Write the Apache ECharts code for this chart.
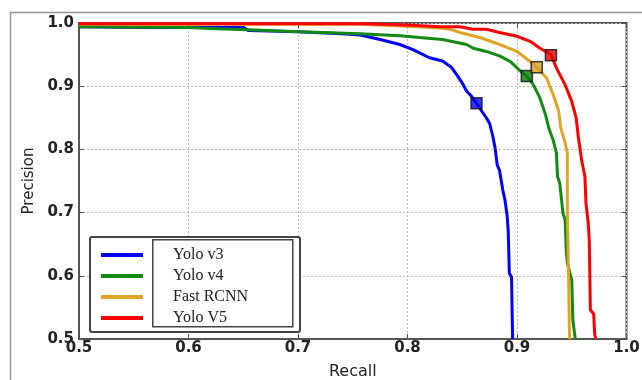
<!DOCTYPE html>
<html>
<head>
<meta charset="utf-8">
<script src="https://cdn.jsdelivr.net/npm/echarts@6/dist/echarts.min.js"></script>
<style>
  html, body { margin: 0; padding: 0; background: #fff; }
  #main { width: 642px; height: 380px; }
</style>
</head>
<body>
<div id="main"></div>
<script>
// 数据：各模型的 PR 曲线（recall / precision）
var names = ['Yolo v3', 'Yolo v4', 'Fast RCNN', 'Yolo V5'];
var colors = ['#0000ff', '#138a13', '#e0a526', '#ff0000'];
var markColors = ['#0000ee', '#0b7a0b', '#d9a028', '#e60000'];

var v3Recall = [0.5, 0.56, 0.65, 0.655, 0.70, 0.74, 0.757, 0.775, 0.793, 0.805, 0.812, 0.82, 0.832, 0.84, 0.845, 0.85, 0.854, 0.858, 0.863, 0.868, 0.872, 0.875, 0.878, 0.880, 0.882, 0.884, 0.887, 0.889, 0.891, 0.892, 0.893, 0.895, 0.896];
var v3Precision = [0.994, 0.993, 0.993, 0.988, 0.986, 0.983, 0.981, 0.974, 0.966, 0.958, 0.952, 0.945, 0.940, 0.930, 0.918, 0.905, 0.892, 0.885, 0.873, 0.860, 0.850, 0.841, 0.820, 0.802, 0.775, 0.767, 0.736, 0.720, 0.695, 0.670, 0.604, 0.598, 0.5];

var v4Recall = [0.5, 0.6, 0.626, 0.66, 0.69, 0.702, 0.757, 0.793, 0.811, 0.832, 0.854, 0.86, 0.872, 0.884, 0.894, 0.903, 0.909, 0.915, 0.921, 0.926, 0.929, 0.933, 0.936, 0.937, 0.939, 0.942, 0.944, 0.945, 0.946, 0.950, 0.951, 0.953, 0.953];
var v4Precision = [0.994, 0.993, 0.991, 0.989, 0.987, 0.986, 0.983, 0.980, 0.977, 0.974, 0.966, 0.960, 0.955, 0.948, 0.939, 0.924, 0.916, 0.902, 0.881, 0.855, 0.834, 0.815, 0.794, 0.757, 0.747, 0.699, 0.688, 0.640, 0.620, 0.593, 0.530, 0.503, 0.5];

var rcnnRecall = [0.5, 0.70, 0.757, 0.799, 0.83, 0.839, 0.848, 0.866, 0.881, 0.89, 0.900, 0.912, 0.918, 0.927, 0.933, 0.938, 0.940, 0.941, 0.944, 0.946, 0.946, 0.947, 0.948];
var rcnnPrecision = [0.998, 0.998, 0.998, 0.995, 0.992, 0.990, 0.985, 0.977, 0.968, 0.962, 0.955, 0.939, 0.930, 0.913, 0.887, 0.861, 0.834, 0.831, 0.810, 0.794, 0.700, 0.609, 0.5];

var v5Recall = [0.5, 0.76, 0.80, 0.83, 0.848, 0.86, 0.872, 0.884, 0.900, 0.912, 0.921, 0.931, 0.936, 0.944, 0.950, 0.954, 0.956, 0.959, 0.962, 0.963, 0.965, 0.966, 0.967, 0.970, 0.971, 0.972];
var v5Precision = [0.999, 0.999, 0.997, 0.994, 0.994, 0.990, 0.990, 0.985, 0.979, 0.971, 0.960, 0.950, 0.929, 0.902, 0.876, 0.850, 0.820, 0.783, 0.757, 0.715, 0.684, 0.657, 0.546, 0.540, 0.507, 0.5];

// 方块标记点
var markRecall = [0.863, 0.909, 0.918, 0.931];
var markPrecision = [0.873, 0.916, 0.930, 0.949];

var recalls = [v3Recall, v4Recall, rcnnRecall, v5Recall];
var precisions = [v3Precision, v4Precision, rcnnPrecision, v5Precision];

function pairs(xs, ys) {
    return xs.map(function (x, i) { return [x, ys[i]]; });
}

var myChart = echarts.init(document.getElementById('main'));

var series = [];
names.forEach(function (name, i) {
    series.push({
        name: name,
        type: 'line',
        data: pairs(recalls[i], precisions[i]),
        showSymbol: false,
        symbol: 'none',
        lineStyle: { color: colors[i], width: 3 },
        itemStyle: { color: colors[i] },
        z: 2 + i
    });
});
names.forEach(function (name, i) {
    series.push({
        type: 'scatter',
        data: [[markRecall[i], markPrecision[i]]],
        symbol: 'rect',
        symbolSize: 11,
        itemStyle: { color: markColors[i], borderColor: '#111', borderWidth: 1.5 },
        z: 10
    });
});

var tickLabel = { fontFamily: 'DejaVu Sans', fontWeight: 'bold', fontSize: 15, color: '#222' };

var option = {
    backgroundColor: '#fff',
    animation: false,
    grid: {
        left: 79, right: 15.5, top: 23, bottom: 41,
        outerBoundsMode: 'none',
        show: true, borderColor: '#555', borderWidth: 2, backgroundColor: '#fff'
    },
    legend: {
        data: names,
        orient: 'vertical',
        left: 96, top: 242,
        itemWidth: 42, itemHeight: 4,
        itemGap: 5,
        icon: 'rect',
        z: 20,
        textStyle: {
            fontFamily: 'Liberation Serif', fontSize: 16, color: '#222',
            padding: [0, 0, 0, 25]
        }
    },
    graphic: [
        {
            type: 'rect', left: 8, top: 10, z: 0, silent: true,
            shape: { width: 700, height: 400 },
            style: { fill: 'none', stroke: '#999', lineWidth: 1.5 }
        },
        {
            type: 'rect', left: 89, top: 236, z: 15, silent: true,
            shape: { width: 210, height: 95, r: 2 },
            style: { fill: '#fff', stroke: '#444', lineWidth: 2 }
        },
        {
            type: 'rect', left: 152, top: 239, z: 16, silent: true,
            shape: { width: 140, height: 87 },
            style: { fill: '#fff', stroke: '#444', lineWidth: 1.5 }
        }
    ],
    xAxis: [{
        type: 'value', min: 0.5, max: 1.0, interval: 0.1,
        name: 'Recall', nameLocation: 'middle', nameGap: 25,
        nameTextStyle: { fontFamily: 'DejaVu Sans', fontSize: 16, color: '#222' },
        axisLine: { onZero: false, lineStyle: { color: '#555', width: 2 } },
        axisTick: { inside: true, length: 5, lineStyle: { color: '#555' } },
        axisLabel: Object.assign({ margin: 2, formatter: function (v) { return v.toFixed(1); } }, tickLabel),
        splitLine: { show: true, lineStyle: { color: '#bbb', type: [2, 2], width: 1 } }
    }, {
        type: 'value', min: 0.5, max: 1.0, interval: 0.1, position: 'top',
        axisLine: { show: false },
        axisTick: { inside: true, length: 5, lineStyle: { color: '#555' } },
        axisLabel: { show: false }, splitLine: { show: false }
    }],
    yAxis: [{
        type: 'value', min: 0.5, max: 1.0, interval: 0.1,
        name: 'Precision', nameLocation: 'middle', nameGap: 42,
        nameTextStyle: { fontFamily: 'DejaVu Sans', fontSize: 15, color: '#222' },
        axisLine: { onZero: false, lineStyle: { color: '#555', width: 2 } },
        axisTick: { inside: true, length: 5, lineStyle: { color: '#555' } },
        axisLabel: Object.assign({ margin: 5, formatter: function (v) { return v.toFixed(1); } }, tickLabel),
        splitLine: { show: true, lineStyle: { color: '#bbb', type: [2, 2], width: 1 } }
    }, {
        type: 'value', min: 0.5, max: 1.0, interval: 0.1, position: 'right',
        axisLine: { show: false },
        axisTick: { inside: true, length: 5, lineStyle: { color: '#555' } },
        axisLabel: { show: false }, splitLine: { show: false }
    }],
    series: series
};

myChart.setOption(option);
</script>
</body>
</html>
